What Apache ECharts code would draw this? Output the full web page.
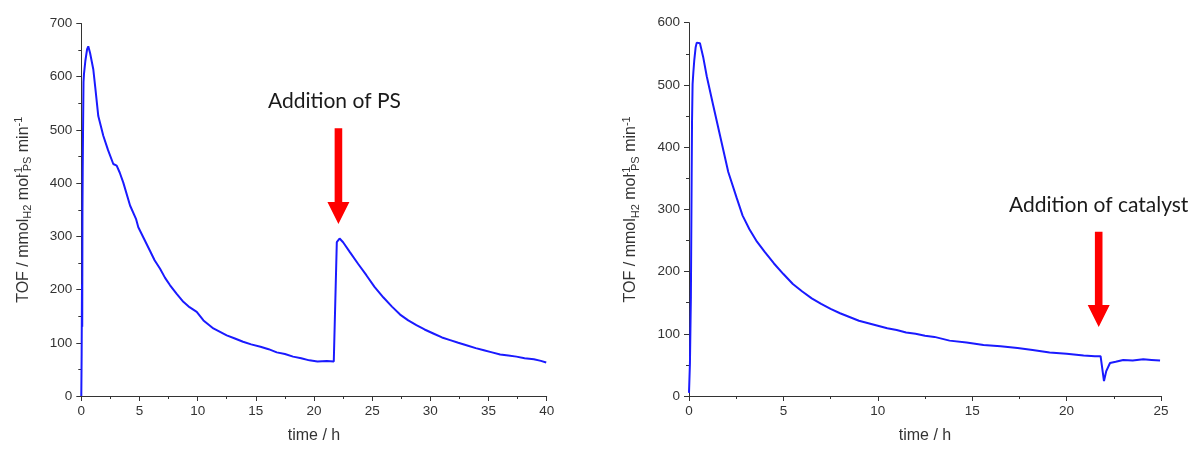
<!DOCTYPE html>
<html>
<head>
<meta charset="utf-8">
<script src="https://cdn.jsdelivr.net/npm/echarts@6/dist/echarts.min.js"></script>
<style>
html,body{margin:0;padding:0;background:#fff;}
#c{width:1192px;height:449px;}
</style>
</head>
<body>
<div id="c"></div>
<script>
// ---- data ----
const leftTime = [0, 0.03, 0.06, 0.08, 0.1, 0.12, 0.15, 0.19, 0.23, 0.35, 0.5, 0.6, 0.75, 1.03, 1.2, 1.46, 1.89, 2.3, 2.75, 3.04, 3.3, 3.61, 4.19, 4.7, 4.9, 5.4, 5.9, 6.3, 6.77, 7.2, 7.63, 8.2, 8.77, 9.3, 9.92, 10.5, 11.35, 12.5, 13.2, 13.9, 14.6, 15.4, 16.1, 16.8, 17.5, 18.2, 18.9, 19.6, 20.3, 21.1, 21.7, 21.96, 22.2, 22.5, 23.1, 23.8, 24.5, 25.2, 25.97, 26.7, 27.4, 28.1, 28.8, 29.5, 30.3, 31.0, 31.7, 32.4, 33.1, 33.9, 34.6, 35.3, 36.0, 36.7, 37.4, 38.1, 38.9, 39.5, 39.96];
const leftTOF = [0, 80, 210, 130, 350, 420, 500, 590, 605, 630, 652, 657, 645, 614, 580, 526, 489, 462, 436, 433, 420, 401, 358, 333, 317, 295, 273, 255, 239, 222, 208, 192, 177, 167, 158, 142, 127, 114, 108, 102, 97, 92.5, 88, 82, 79, 74, 71, 67, 65, 66, 65, 289, 296, 289, 270, 248, 227, 205, 185, 168, 153, 142, 133, 125, 117, 110, 105, 100, 95.5, 90, 86, 82, 78, 76, 74, 71, 69, 66, 63];
const rightTime = [0, 0.05, 0.1, 0.14, 0.16, 0.19, 0.23, 0.28, 0.35, 0.41, 0.58, 0.75, 0.94, 1.29, 1.64, 2.08, 2.53, 2.84, 3.2, 3.6, 4.0, 4.5, 5.0, 5.5, 6.0, 6.5, 7.0, 7.5, 8.0, 8.5, 9.0, 9.5, 10.0, 10.5, 11.0, 11.5, 12.0, 12.5, 13.0, 13.8, 14.7, 15.6, 16.5, 17.4, 18.2, 19.1, 20.0, 20.9, 21.5, 21.8, 21.98, 22.1, 22.3, 22.6, 23.0, 23.5, 24.06, 24.5, 24.95];
const rightTOF = [5, 53, 159, 350, 440, 501, 520, 540, 560, 568, 567, 545, 514, 466, 419, 360, 318, 290, 268, 248, 232, 213, 196, 180, 168, 157, 148, 140, 133, 127, 121, 117, 113, 109, 106, 102, 100, 97, 95, 89, 86, 82, 80, 77, 74, 70, 68, 65, 64, 64, 24, 40, 53, 55, 58, 57, 59, 58, 57];
// arrows: [time, top value, tip value]
const leftArrow = [22.1, 503, 323];
const rightArrow = [21.7, 264, 111];
const leftNote = 'Addition of PS';
const rightNote = 'Addition of catalyst';
const xTitle = 'time / h';
const yTitle = '{n|TOF / mmol}{sub|H2}{n| mol}{supz|-1}{subz|PS}{n| min}{sup|-1}';

const zip = (a, b) => a.map((t, i) => [t, b[i]]);

const AX = '#333333';
const FONT = 'Liberation Sans, Arial, sans-serif';

function xAxisCfg(gi, max) {
  return {
    type: 'value', gridIndex: gi, min: 0, max: max, interval: 5,
    name: xTitle, nameLocation: 'middle', nameGap: 32,
    nameTextStyle: {fontSize: 16, color: AX, fontFamily: FONT},
    axisLine: {show: true, lineStyle: {color: AX, width: 1}},
    axisTick: {show: true, inside: false, length: 5, lineStyle: {color: AX}},
    minorTick: {show: true, splitNumber: 2, length: 3, lineStyle: {color: AX}},
    axisLabel: {fontSize: 13.5, color: AX, fontFamily: FONT, margin: 8},
    splitLine: {show: false}
  };
}
function yAxisCfg(gi, max) {
  const base = {fontSize: 11, fontFamily: FONT, color: AX, lineHeight: 12, align: 'left'};
  return {
    type: 'value', gridIndex: gi, min: 0, max: max, interval: 100,
    name: yTitle, nameLocation: 'middle', nameGap: 48, nameRotate: 90,
    nameTextStyle: {
      rich: {
        n: {fontSize: 16, fontFamily: FONT, color: AX, lineHeight: 20},
        sub: Object.assign({}, base, {verticalAlign: 'bottom'}),
        subz: Object.assign({}, base, {verticalAlign: 'bottom', padding: [0, 0, 0, 0]}),
        sup: Object.assign({}, base, {verticalAlign: 'top'}),
        supz: Object.assign({}, base, {verticalAlign: 'top', width: 1, padding: [0, 0, 0, 2]})
      }
    },
    axisLine: {show: true, lineStyle: {color: AX, width: 1}},
    axisTick: {show: true, inside: false, length: 5, lineStyle: {color: AX}},
    minorTick: {show: true, splitNumber: 2, length: 3, lineStyle: {color: AX}},
    axisLabel: {fontSize: 13.5, color: AX, fontFamily: FONT, margin: 9},
    splitLine: {show: false}
  };
}
function arrowItem(note, dx) {
  return function (params, api) {
    const top = api.coord([api.value(0), api.value(1)]);
    const tip = api.coord([api.value(0), api.value(2)]);
    const x = top[0];
    const sh = 3.8, hh = 11, hl = 22;
    const ht = tip[1] - hl;
    return {
      type: 'group',
      children: [
        {type: 'polygon', shape: {points: [[x - sh, top[1]], [x + sh, top[1]], [x + sh, ht], [x + hh, ht], [x, tip[1]], [x - hh, ht], [x - sh, ht]]},
         style: {fill: '#ff0000'}},
        {type: 'text', x: x + dx, y: top[1] - 27,
         style: {text: note, font: '21px Lato', fill: '#1a1a1a', align: 'center', verticalAlign: 'middle'}}
      ]
    };
  };
}

const chart = echarts.init(document.getElementById('c'), null, {renderer: 'canvas'});
chart.setOption({
  animation: false,
  backgroundColor: '#ffffff',
  grid: [
    {left: 81.3, top: 23.5, width: 465.4, height: 374.2, containLabel: false},
    {left: 689, top: 22.7, width: 472, height: 377.3, containLabel: false}
  ],
  xAxis: [xAxisCfg(0, 40), xAxisCfg(1, 25)],
  yAxis: [yAxisCfg(0, 700), yAxisCfg(1, 600)],
  series: [
    {type: 'line', xAxisIndex: 0, yAxisIndex: 0, data: zip(leftTime, leftTOF), showSymbol: false,
     lineStyle: {color: '#1a1aff', width: 2}, itemStyle: {color: '#1a1aff'}},
    {type: 'line', xAxisIndex: 1, yAxisIndex: 1, data: zip(rightTime, rightTOF), showSymbol: false,
     lineStyle: {color: '#1a1aff', width: 2}, itemStyle: {color: '#1a1aff'}},
    {type: 'custom', xAxisIndex: 0, yAxisIndex: 0, data: [leftArrow], renderItem: arrowItem(leftNote, -4), clip: false, z: 5},
    {type: 'custom', xAxisIndex: 1, yAxisIndex: 1, data: [rightArrow], renderItem: arrowItem(rightNote, 0), clip: false, z: 5}
  ]
});
</script>
</body>
</html>
